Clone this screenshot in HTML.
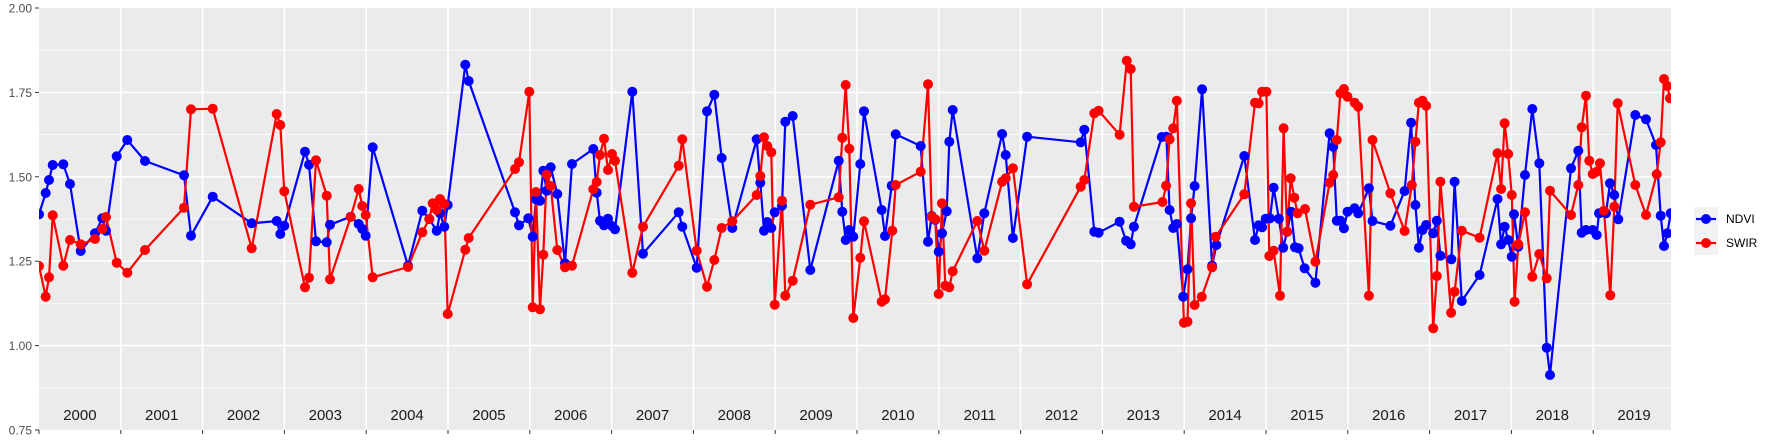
<!DOCTYPE html>
<html><head><meta charset="utf-8"><style>
html,body{margin:0;padding:0;background:#fff;}
svg{display:block;font-family:"Liberation Sans",sans-serif;}
</style></head><body>
<svg width="1773" height="442" viewBox="0 0 1773 442" xmlns="http://www.w3.org/2000/svg">
<defs><clipPath id="c"><rect x="39" y="8" width="1632" height="422"/></clipPath></defs>
<rect x="39" y="8" width="1632" height="422" fill="#ebebeb"/>
<g stroke="#fff" stroke-width="0.8">
<line x1="39" x2="1671" y1="50.2" y2="50.2"/><line x1="39" x2="1671" y1="134.6" y2="134.6"/><line x1="39" x2="1671" y1="219" y2="219"/><line x1="39" x2="1671" y1="303.4" y2="303.4"/><line x1="39" x2="1671" y1="387.8" y2="387.8"/>
</g>
<g stroke="#fff" stroke-width="1.6">
<line x1="39" x2="1671" y1="92.4" y2="92.4"/><line x1="39" x2="1671" y1="176.8" y2="176.8"/><line x1="39" x2="1671" y1="261.2" y2="261.2"/><line x1="39" x2="1671" y1="345.6" y2="345.6"/>
<line x1="120.8" x2="120.8" y1="8" y2="430"/><line x1="202.6" x2="202.6" y1="8" y2="430"/><line x1="284.4" x2="284.4" y1="8" y2="430"/><line x1="366.2" x2="366.2" y1="8" y2="430"/><line x1="448" x2="448" y1="8" y2="430"/><line x1="529.8" x2="529.8" y1="8" y2="430"/><line x1="611.6" x2="611.6" y1="8" y2="430"/><line x1="693.4" x2="693.4" y1="8" y2="430"/><line x1="775.2" x2="775.2" y1="8" y2="430"/><line x1="857" x2="857" y1="8" y2="430"/><line x1="938.8" x2="938.8" y1="8" y2="430"/><line x1="1020.6" x2="1020.6" y1="8" y2="430"/><line x1="1102.4" x2="1102.4" y1="8" y2="430"/><line x1="1184.2" x2="1184.2" y1="8" y2="430"/><line x1="1266" x2="1266" y1="8" y2="430"/><line x1="1347.8" x2="1347.8" y1="8" y2="430"/><line x1="1429.6" x2="1429.6" y1="8" y2="430"/><line x1="1511.4" x2="1511.4" y1="8" y2="430"/><line x1="1593.2" x2="1593.2" y1="8" y2="430"/>
</g>
<g clip-path="url(#c)">
<polyline id="b" fill="none" stroke="#0000ff" stroke-width="2.2" stroke-linejoin="round" points="39,214.3 45.7,193 49,180 52.7,165 63.3,164.3 70,184 80.7,251 95,233.3 102.3,218.3 106,230.7 116.7,156.3 127.3,140 145,161 184,175.3 191,235.7 212.7,196.7 251.7,223.3 276.7,221 280.3,234 284.3,225.7 305,151.7 309,164.7 316,241.3 326.7,242.3 330,224.7 350.7,216.7 358.7,224 362.3,229 365.7,235.7 372.7,147.3 408,265.7 422.3,210.7 429.3,219 436.7,230.7 440,213.3 444.3,226.7 447.7,205 465.3,64.7 468.7,81 515,212.3 519,225.3 528.3,218.3 532.7,236.7 536,199.3 540,200.7 543.3,170.7 546.7,190.7 550.7,167.3 557.3,194 565,263.3 572,164 593.3,149 596.7,192.7 600,220.7 604,225.3 608,218.7 612,226 615,229.3 632.3,91.7 643,253.7 678.7,212.3 682.3,226.7 696.7,267.7 707,111.3 714.3,94.7 721.7,158 732.3,228 756.7,139.3 760.3,182.7 764,230.7 767.3,222 771.3,228 774.7,212.3 782,205.7 785.3,121.7 792.7,116 810.3,270 838.7,160.7 842.3,211.7 845.7,240 849.3,230 853.3,236.7 860.3,164 864,111.3 881.7,210 885,236 891.7,185.7 895.7,134.3 920.7,146 928,241.7 931.7,216 935.3,220 938.7,251.7 942,233.3 946.7,211.3 949.3,141.7 952.7,110 977.3,258.3 984.3,213.3 1002.1,134 1005.7,155 1012.9,238 1027.1,136.7 1080.7,142.3 1084.3,129.7 1094.3,231.7 1098.6,232.7 1119.6,221.7 1126.1,240.7 1130.7,244.3 1133.9,226.7 1161.8,137 1166.4,136.7 1169.6,210 1173.2,228 1176.8,224 1183.2,296.7 1187.5,269.3 1191.1,218.3 1194.6,186 1202.1,89.3 1212.1,265.7 1216.4,245 1244.3,156 1255,240 1258.6,225.3 1262.1,227.3 1265.7,218.7 1270,218.3 1273.6,187.7 1278.9,218.7 1283.2,247.7 1287.1,231.7 1291.1,211.7 1295,247.3 1298.6,248.3 1304.6,268.3 1315.4,282.7 1329.6,133.3 1333.2,146.7 1336.8,220.7 1340.4,220.7 1343.9,228.3 1347.5,211.7 1354.6,208.3 1358.2,213.3 1368.9,188.3 1372.5,221 1390.4,225.7 1404.6,191 1411.1,122.7 1415.4,205 1418.9,247.7 1422.5,230 1426.1,225 1433.2,233.3 1436.8,220.7 1440.4,255.7 1451.4,259.3 1454.6,181.7 1461.8,301 1479.6,275 1497.5,199 1501.1,244.3 1504.6,226.7 1508.2,240 1511.8,256.7 1514,214.3 1518.3,246.7 1525,175 1532.3,109 1539.3,163.3 1546.7,347.7 1550,375 1571,168.3 1578.3,150.7 1581.7,232.7 1586,230 1592.7,230 1596.7,235 1599,213.3 1606,213.3 1610,183.3 1614.3,195 1618.3,219.3 1635.3,115 1646,119.3 1656,145 1660.7,215.7 1664,246 1667.3,233.3 1670.7,213.3"/>
<polyline id="r" fill="none" stroke="#ff0000" stroke-width="2.2" stroke-linejoin="round" points="39,266 45.7,296.7 49,277.3 52.7,215.3 63.3,265.7 70,240 80.7,244.3 95,239 102.3,229 106,217 116.7,262.7 127.3,272.7 145,250 184,207.7 191,109.3 212.7,108.7 251.7,248.3 276.7,114 280.3,125 284.3,191.3 305,287.3 309,277.7 316,160.3 326.7,195.7 330,279.3 350.7,217 358.7,189 362.3,206 365.7,215 372.7,277.3 408,267 422.3,232.3 429.3,219 432.7,203.3 436.7,210 440,199 444.3,204 447.7,314 465.3,249.7 468.7,238 515,169 519,162.3 529.3,91.7 532.7,307.3 536,192 540,309.3 543.3,254.7 546.7,174.7 550.7,186 557.3,250 565,267.3 572,265.7 593.3,189.3 596.7,182 600,155 604,138.7 608,170 612,154 615,160.7 632.3,272.7 643,226.7 678.7,165.7 682.3,139.3 696.7,250.7 707,286.7 714.3,260 721.7,228 732.3,221.3 756.7,195 760.3,176 764,137.3 767.3,146 771.3,152.3 774.7,304.7 782,200.7 785.3,295.7 792.7,280.7 810.3,204.7 838.7,197.3 842.3,137.7 845.7,85 849.3,148.7 853.3,318 860.3,257.7 864,221.3 881.7,301.7 885,299.3 892.3,230.7 895.7,185 920.7,171.7 928,84.3 931.7,216.7 935.3,219.3 938.7,294 942,203.3 945.3,285.7 949.3,287.3 952.7,271.3 977.3,221 984.3,250.7 1002.1,181.7 1005.7,178.3 1012.9,168.3 1027.1,284.3 1080.7,186.7 1084.3,180 1094.3,113.3 1098.6,110.7 1119.6,134.7 1126.8,60.7 1130.7,69 1133.9,206.7 1162.5,202 1166.1,185.7 1169.6,139.3 1173.2,128.3 1176.8,100.7 1183.9,322.7 1187.5,321.7 1191.1,203.3 1194.6,305 1201.8,296.7 1212.1,267.3 1215.7,236.7 1244.3,194.3 1255,102.7 1258.6,103.3 1262.1,91.7 1266.4,91.7 1269.3,256 1273.6,250.7 1280,295.7 1283.6,128.3 1287.1,231.7 1290.7,178.3 1294.3,197.7 1297.5,213.3 1305,209 1315.4,261.7 1329.6,182.7 1333.2,175 1336.8,140 1340.4,93.3 1343.9,89 1347.5,96.7 1354.6,102.7 1358.2,106.7 1368.9,295.7 1372.5,140 1390.4,193.3 1404.6,231 1411.8,185 1415.4,141.7 1418.9,102.7 1422.5,100.7 1426.1,105.7 1433.2,328.3 1436.8,276 1440.4,181.7 1451.1,312.7 1454.6,291.7 1461.8,230.7 1479.6,237.7 1497.5,153.3 1501.1,189 1504.6,123.3 1508.2,154 1511.8,195 1514.6,301.7 1518.3,244.3 1525,212.3 1532.3,276.7 1539.3,254 1546.7,278.3 1550,190.7 1571,215 1578.3,185 1581.7,127.3 1586,95.7 1589.3,160.7 1592.7,174 1596.7,171.7 1600,163.3 1604,210.7 1610.3,295.3 1614.3,206.7 1617.7,103.3 1635.3,185 1646,215 1656.7,174.3 1660.7,142.3 1664,79 1667.3,86 1670,98.3"/>
<polyline fill="none" stroke="#0000ff" stroke-width="10" stroke-linecap="round" stroke-dasharray="0 100000" points="0,0"/>
</g>
<g id="dots" clip-path="url(#c)"></g>
<g fill="#4d4d4d" font-size="12" text-anchor="end">
<text x="32" y="12.5">2.00</text><text x="32" y="96.9">1.75</text><text x="32" y="181.3">1.50</text><text x="32" y="265.7">1.25</text><text x="32" y="350.1">1.00</text><text x="32" y="434.5">0.75</text>
</g>
<g stroke="#333" stroke-width="1">
<line x1="35" x2="39" y1="8" y2="8"/><line x1="35" x2="39" y1="92.4" y2="92.4"/><line x1="35" x2="39" y1="176.8" y2="176.8"/><line x1="35" x2="39" y1="261.2" y2="261.2"/><line x1="35" x2="39" y1="345.6" y2="345.6"/><line x1="35" x2="39" y1="430" y2="430"/>
<line x1="39" x2="39" y1="430" y2="434"/><line x1="120.8" x2="120.8" y1="430" y2="434"/><line x1="202.6" x2="202.6" y1="430" y2="434"/><line x1="284.4" x2="284.4" y1="430" y2="434"/><line x1="366.2" x2="366.2" y1="430" y2="434"/><line x1="448" x2="448" y1="430" y2="434"/><line x1="529.8" x2="529.8" y1="430" y2="434"/><line x1="611.6" x2="611.6" y1="430" y2="434"/><line x1="693.4" x2="693.4" y1="430" y2="434"/><line x1="775.2" x2="775.2" y1="430" y2="434"/><line x1="857" x2="857" y1="430" y2="434"/><line x1="938.8" x2="938.8" y1="430" y2="434"/><line x1="1020.6" x2="1020.6" y1="430" y2="434"/><line x1="1102.4" x2="1102.4" y1="430" y2="434"/><line x1="1184.2" x2="1184.2" y1="430" y2="434"/><line x1="1266" x2="1266" y1="430" y2="434"/><line x1="1347.8" x2="1347.8" y1="430" y2="434"/><line x1="1429.6" x2="1429.6" y1="430" y2="434"/><line x1="1511.4" x2="1511.4" y1="430" y2="434"/><line x1="1593.2" x2="1593.2" y1="430" y2="434"/>
</g>
<g fill="#1a1a1a" font-size="15" text-anchor="middle">
<text x="79.9" y="420">2000</text><text x="161.7" y="420">2001</text><text x="243.5" y="420">2002</text><text x="325.3" y="420">2003</text><text x="407.1" y="420">2004</text><text x="488.9" y="420">2005</text><text x="570.7" y="420">2006</text><text x="652.5" y="420">2007</text><text x="734.3" y="420">2008</text><text x="816.1" y="420">2009</text><text x="897.9" y="420">2010</text><text x="979.7" y="420">2011</text><text x="1061.5" y="420">2012</text><text x="1143.3" y="420">2013</text><text x="1225.1" y="420">2014</text><text x="1306.9" y="420">2015</text><text x="1388.7" y="420">2016</text><text x="1470.5" y="420">2017</text><text x="1552.3" y="420">2018</text><text x="1634.1" y="420">2019</text>
</g>
<rect x="1694" y="207" width="24" height="48" fill="#f2f2f2"/>
<line x1="1696" x2="1716" y1="219" y2="219" stroke="#0000ff" stroke-width="2.2"/><circle cx="1706" cy="219" r="5" fill="#0000ff"/>
<line x1="1696" x2="1716" y1="243" y2="243" stroke="#ff0000" stroke-width="2.2"/><circle cx="1706" cy="243" r="5" fill="#ff0000"/>
<g fill="#000" font-size="12"><text x="1726" y="223">NDVI</text><text x="1726" y="247">SWIR</text></g>
</svg>
<script>
(function(){
var ns="http://www.w3.org/2000/svg",g=document.getElementById("dots");
[["b","#0000ff"],["r","#ff0000"]].forEach(function(s){
var pts=document.getElementById(s[0]).getAttribute("points").trim().split(/\s+/);
pts.forEach(function(p){var a=p.split(",");var c=document.createElementNS(ns,"circle");
c.setAttribute("cx",a[0]);c.setAttribute("cy",a[1]);c.setAttribute("r","5");c.setAttribute("fill",s[1]);g.appendChild(c);});
});
})();
</script>
</body></html>
